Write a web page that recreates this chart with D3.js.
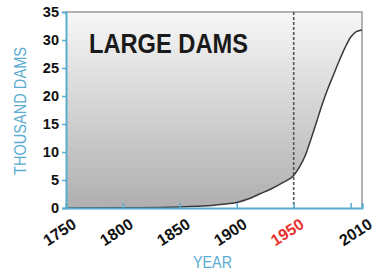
<!DOCTYPE html>
<html lang="en">
<head>
    <meta charset="UTF-8">
    <title>Large Dams</title>
    <script src="https://d3js.org/d3.v7.min.js"></script>
    <style>
        body { margin: 0; background: #fff; }
        svg { display: block; }
    </style>
</head>
<body>
    <svg width="378" height="278"></svg>
</body>
<script>
    // values (thousand dams per year)
    const years = [1750, 1800, 1850, 1870, 1880, 1890, 1900, 1910, 1920, 1930, 1940, 1950,
      1955, 1960, 1965, 1970, 1975, 1980, 1985, 1990, 1995, 2000, 2005, 2010];
    const dams = [0, 0.05, 0.2, 0.35, 0.5, 0.7, 1.0, 1.6, 2.5, 3.4, 4.5, 5.8,
      7.3, 9.3, 12.2, 15.3, 18.5, 21.3, 23.8, 26.3, 28.6, 30.5, 31.5, 31.8];
    const yTicks = [0, 5, 10, 15, 20, 25, 30, 35];
    const xTicks = [1750, 1800, 1850, 1900, 1950, 2000, 2010];
    const xTickLabels = ['1750', '1800', '1850', '1900', '1950', '', '2010'];
    const markYear = 1950;

    const blue = '#5aacd0';
    const font = '"Liberation Sans", Arial, sans-serif';

    const svg = d3.select('svg');
    const plotLeft = 66, plotRight = 362, plotTop = 12, plotBottom = 208;

    const x = d3.scaleLinear().domain([1750, 2010]).range([plotLeft, plotRight]);
    const y = d3.scaleLinear().domain([0, 35]).range([plotBottom, plotTop]);

    const data = years.map((yr, i) => ({ year: yr, value: dams[i] }));

    const grad = svg.append('defs').append('linearGradient')
      .attr('id', 'bg')
      .attr('x1', 0).attr('y1', 0).attr('x2', 0).attr('y2', 1);
    grad.append('stop').attr('offset', '0%').attr('stop-color', '#f7f7f7');
    grad.append('stop').attr('offset', '100%').attr('stop-color', '#afafaf');

    // gray area above the curve
    svg.append('path')
      .datum(data)
      .attr('fill', 'url(#bg)')
      .attr('d', d3.area()
        .x(d => x(d.year))
        .y0(y(35))
        .y1(d => y(d.value))
        .curve(d3.curveMonotoneX));

    // top and right frame
    svg.append('path')
      .attr('d', `M${x(1750)},${y(35)}H${x(2010)}V${y(0)}`)
      .attr('fill', 'none')
      .attr('stroke', '#9a9a9a')
      .attr('stroke-width', 1.5);

    // 1950 marker
    svg.append('line')
      .attr('x1', x(markYear)).attr('x2', x(markYear))
      .attr('y1', y(35)).attr('y2', y(0))
      .attr('stroke', '#555')
      .attr('stroke-width', 1.6)
      .attr('stroke-dasharray', '3,2');

    svg.append('path')
      .datum(data)
      .attr('fill', 'none')
      .attr('stroke', '#3a3a3a')
      .attr('stroke-width', 1.5)
      .attr('d', d3.line()
        .x(d => x(d.year))
        .y(d => y(d.value))
        .curve(d3.curveMonotoneX));

    // y axis
    const yAxis = svg.append('g')
      .attr('transform', `translate(${plotLeft},0)`)
      .call(d3.axisLeft(y).tickValues(yTicks).tickSize(4).tickPadding(3));
    yAxis.select('.domain').attr('stroke', blue).attr('stroke-width', 2);
    yAxis.selectAll('.tick line').attr('stroke', blue).attr('stroke-width', 1.5);
    yAxis.selectAll('.tick text')
      .attr('fill', '#111')
      .style('font-family', font)
      .style('font-weight', 'bold')
      .style('font-size', '14.5px');

    // x axis
    const xAxis = svg.append('g')
      .attr('transform', `translate(0,${plotBottom})`)
      .call(d3.axisBottom(x).tickValues(xTicks).tickSize(-5)
        .tickFormat((d, i) => xTickLabels[i]));
    xAxis.select('.domain').attr('stroke', blue).attr('stroke-width', 2);
    xAxis.selectAll('.tick line').attr('stroke', blue).attr('stroke-width', 1.5);
    xAxis.selectAll('.tick text')
      .attr('x', 0).attr('y', 0).attr('dy', 0)
      .attr('text-anchor', 'end')
      .attr('transform', 'translate(11,19) rotate(-33)')
      .attr('fill', d => d === markYear ? '#e8312f' : '#111')
      .style('font-family', font)
      .style('font-weight', 'bold')
      .style('font-size', '16px');

    // titles
    svg.append('text')
      .attr('x', 89)
      .attr('y', 53)
      .attr('textLength', 159)
      .attr('lengthAdjust', 'spacingAndGlyphs')
      .attr('fill', '#1a1a1a')
      .style('font-family', font)
      .style('font-weight', 'bold')
      .style('font-size', '27.5px')
      .text('LARGE DAMS');

    svg.append('text')
      .attr('transform', `translate(26,175) rotate(-90)`)
      .attr('textLength', 128)
      .attr('lengthAdjust', 'spacingAndGlyphs')
      .attr('fill', blue)
      .style('font-family', font)
      .style('font-size', '16px')
      .text('THOUSAND DAMS');

    svg.append('text')
      .attr('x', 193)
      .attr('y', 268)
      .attr('textLength', 39)
      .attr('lengthAdjust', 'spacingAndGlyphs')
      .attr('fill', blue)
      .style('font-family', font)
      .style('font-size', '17px')
      .text('YEAR');
</script>
</html>
